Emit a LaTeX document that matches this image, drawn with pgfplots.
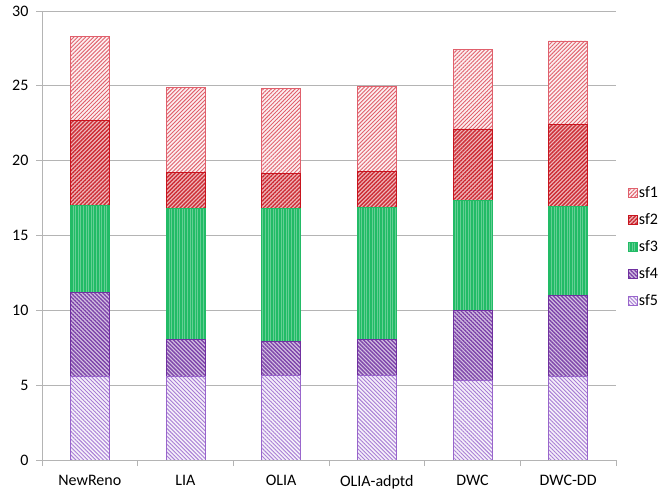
\documentclass[border=0pt]{standalone}
\usepackage{fontspec}
\setmainfont{Carlito}
\usepackage{pgfplots}
\pgfplotsset{compat=1.18}
\usepackage{pgfplotstable}
\usetikzlibrary{patterns.meta}

\definecolor{redA}{HTML}{E0606C}
\definecolor{redB}{HTML}{C8141E}
\definecolor{grn}{HTML}{22BB66}
\definecolor{purA}{HTML}{7030A0}
\definecolor{purB}{HTML}{9966CC}
\definecolor{gridc}{HTML}{B4B4B4}

\pgfplotstableread{
x sfv sfiv sfiii sfii sfi
0 5.61 5.58 5.81 5.68 5.60
1 5.61 2.45 8.75 2.41 5.66
2 5.65 2.30 8.85 2.35 5.65
3 5.65 2.40 8.85 2.35 5.73
4 5.32 4.68 7.37 4.75 5.30
5 5.59 5.41 5.92 5.48 5.60
}\data

\begin{document}
\begin{tikzpicture}[font=\fontsize{16}{19}\selectfont]
\path[use as bounding box] (-42pt,-35pt) rectangle (627pt,460pt);
\begin{axis}[
  scale only axis, width=574pt, height=449pt,
  ybar stacked, bar width=39pt,
  xmin=-0.5, xmax=5.5, ymin=0, ymax=30,
  xtick={0,...,5},
  xticklabels={NewReno,LIA,OLIA,OLIA-adptd,DWC,DWC-DD},
  minor xtick={-0.5,0.5,...,5.5},
  ytick={0,5,...,30},
  tick align=outside,
  major tick length=6pt, minor tick length=6pt,
  major x tick style={draw=none},
  tick style={gridc, line width=0.8pt},
  xticklabel style={yshift=-6pt},
  yticklabel style={xshift=-4pt},
  axis x line*=bottom, axis y line*=left,
  axis line style={gridc, line width=0.8pt},
  ymajorgrids, grid style={gridc, line width=0.8pt},
  /pgf/number format/assume math mode=true,
  reverse legend,
  legend style={at={(1.02,0.474)}, anchor=west, draw=none, fill=none,
    row sep=10pt, inner sep=0pt,
    nodes={inner sep=1.5pt, text height=11pt, text depth=3pt}},
  legend cell align=left,
  myleg/.style={legend image code/.code={\draw[##1,line width=0.8pt] (0pt,-4.5pt) rectangle (9pt,4.5pt);}},
]
\addplot[myleg, preaction={fill=purB!10}, pattern={Lines[angle=-45,distance=2.8pt,line width=0.9pt]}, pattern color=purB!85, draw=purB, line width=0.8pt] table[x=x,y=sfv]{\data};
\addplot[myleg, preaction={fill=purA!30}, pattern={Lines[angle=-45,distance=2.8pt,line width=1.4pt]}, pattern color=purA!90, draw=purA, line width=0.8pt] table[x=x,y=sfiv]{\data};
\addplot[myleg, preaction={fill=grn}, pattern={Lines[angle=90,distance=2.6pt,line width=0.6pt]}, pattern color=grn!70!white, draw=grn, line width=0.8pt] table[x=x,y=sfiii]{\data};
\addplot[myleg, preaction={fill=redB!30}, pattern={Lines[angle=45,distance=2.8pt,line width=1.4pt]}, pattern color=redB!90, draw=redB, line width=0.8pt] table[x=x,y=sfii]{\data};
\addplot[myleg, preaction={fill=redA!10}, pattern={Lines[angle=45,distance=2.8pt,line width=0.9pt]}, pattern color=redA, draw=redA, line width=0.8pt] table[x=x,y=sfi]{\data};
\legend{sf5,sf4,sf3,sf2,sf1}
\end{axis}
\end{tikzpicture}
\end{document}
